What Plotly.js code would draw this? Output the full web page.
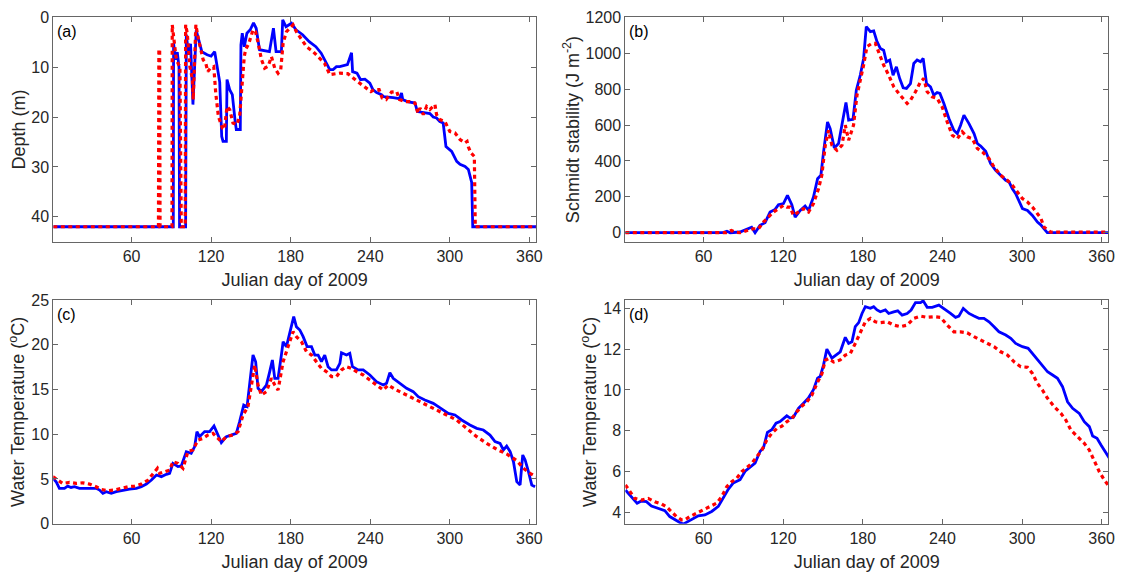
<!DOCTYPE html>
<html>
<head>
<meta charset="utf-8">
<script src="https://cdn.plot.ly/plotly-3.0.1.min.js"></script>
<style>html,body{margin:0;padding:0;background:#fff;}#chart{width:1124px;height:572px;}</style>
</head>
<body>
<div id="chart"></div>
<script>
// ---------- Panel (a): thermocline depth (m) ----------
const depthSolidDay = [1,91.5,91.7,93,94.5,95.8,96.2,100.8,101.3,103,104.5,106.3,108.8,111,113,117,120,122.7,124,126.5,128,129,131.5,132,134,136,138,139,142,142.5,143.5,145,147,149.5,152,154,156.5,164,167,169,173,174,176.5,180.6,184,189,194,199,203,209.5,212,214.5,217,222.8,225.9,226.7,230,232.7,236,239.7,242,244.8,248.5,250,257.3,262,263.6,264.5,268,273.7,275.6,280,285,287.5,290,292.5,295,297.1,301.4,305.2,307.7,311.5,314,316.5,317.3,365];
const depthSolid = [42,42,5.2,8.5,7,10,42,42,3.5,7.5,5.3,17.5,2.6,5.2,6.9,7.5,7.8,6.9,9.2,13,23.9,24.9,24.9,12.5,14.5,15.5,20.5,22.5,22.5,5.5,3.2,5.9,3.2,2.5,1.1,2.2,6.5,6.9,2.2,6.9,6.9,0.5,1.9,1.2,2.5,3.5,4.9,5.9,7.2,10.5,10.5,9.9,9.9,9.5,7.1,10.9,11.2,12.5,12.4,13.2,14.5,15.1,15.5,15.9,16.1,16.3,15.2,16.5,16.9,17.2,18.9,19.1,19.3,20,20.2,20.9,21.2,25.9,26.9,28.9,29.5,29.9,30.5,33.1,42,42];
const depthDottedDay = [1,80.3,80.6,81.2,81.5,90.5,90.7,92,93.5,95,96.5,97.5,100.5,100.8,102,104,106,106.5,108.5,110.5,112.5,114,116,117.5,119.5,122,123.5,125.5,128.5,130,132,134,136.5,139.5,141.5,143,145,146,148.5,151.6,153.5,155.5,158,160.4,163,165.5,168,170.5,172.5,174.3,176.8,179.3,181.8,184.3,188,191.9,197,202,205.5,209.5,214.5,217,223,225.5,230.5,235.5,240.5,243,246.7,249,252,256,260,262,266,270,273.7,276,277.5,280,282.5,285,288.8,290,292.5,296.3,300,303.9,307.7,311.5,313,314,316,318.5,319.2,365];
const depthDotted = [42,42,6.4,6.4,42,42,1.5,4.5,7.9,9.2,10,42,42,1.5,3.2,9.9,12.5,16.5,1.5,4.5,7.2,8.5,9.2,10.9,10.2,9.9,15.2,19.9,22.2,22.5,17.9,18.5,21.2,21.5,19.9,14.5,7.9,6.5,5.2,2.5,2.9,5.2,8.5,10.2,9.8,7.9,10.2,11.2,10.5,5.2,2.9,2.2,1.5,2.9,4.5,5.9,6.9,8.2,9.2,11.5,11.2,11.2,11.3,11.9,12.9,13.9,14.9,14.5,14.5,16.2,16.5,15.0,14.9,16.5,16.9,16.9,17.2,19.2,18.2,19.5,17.9,18.5,17.5,19.5,20.5,20.9,22.9,23.2,24.5,25.2,24.9,26,27.2,27.9,42,42];

// ---------- Panel (b): Schmidt stability (J m-2) ----------
const schmidtSolidDay = [1,74,77.6,80,87.4,92.5,96.2,98.8,102.5,106.3,110.1,113.9,116.4,120.2,123.2,126.5,129,132.8,136.5,139.1,142.8,145.9,148.4,150.4,153.4,155.4,158.5,161.7,164.3,167.3,169.3,172.6,175.1,178.1,180.6,182.6,185.7,188.2,190.7,193.2,195.7,197.8,200.3,202.8,205.3,207.8,210.4,212.9,215.9,218.4,220.9,223.5,225.5,228,231,233.5,236,238.1,241.1,244.9,248.6,251.2,253.7,256.2,260,263.8,266.3,268.8,272.6,276.3,280.1,283.9,287.7,290.2,292.7,295.2,297.8,300.3,304.1,307.8,311.6,314.1,319,365];
const schmidtSolid = [0,0,8,0,4,22,31,0,41,56,115,130,156,162,208,156,87,124,149,124,199,301,320,450,617,580,472,497,599,725,627,632,794,878,971,1148,1120,1124,1064,1027,1017,952,962,878,924,859,807,804,831,943,962,952,971,831,813,766,781,776,720,636,571,552,599,655,608,552,497,483,454,385,348,320,292,283,245,218,171,134,124,96,59,44,0,0];
const schmidtDottedDay = [1,77,81,84,87.4,92.5,97.5,101.3,105.1,108.8,112.6,116.4,120.2,122.7,125.2,127.7,131.5,135.3,139.1,142.8,146.6,149.1,151.7,154.2,156.7,160.5,164.3,166.8,169.3,173,175.6,178.1,180.6,183.1,186.9,189.4,192,195.7,199.5,203.3,207.1,210.9,213.4,215.9,219.7,223.5,226,228.5,232.3,236,239.8,243.6,247.4,251.2,254.9,258.7,262.5,266.3,270.1,275.1,278.9,283.9,288.9,292.7,296.5,300.3,304.1,307.8,311.6,314.1,316.6,321.7,365];
const schmidtDotted = [0,0,13,3,0,13,22,22,59,87,115,134,152,143,143,97,115,134,115,162,245,320,487,571,487,459,487,599,515,599,766,841,934,1036,1055,1055,1008,934,878,813,776,738,720,738,785,841,859,785,757,748,701,617,543,524,562,534,524,469,450,413,366,320,292,264,227,190,171,143,106,82,31,3,3];

// ---------- Panel (c): water temperature (oC) ----------
const tempCSolidDay = [0.6,3.1,5.6,9.4,11.9,14.4,17,20.7,28.3,33.3,35.9,38.4,40.9,44.7,48.5,53.5,58.5,63.6,67.4,71.2,75,78.8,82.5,86.3,88.7,91.2,95,97.5,101.3,105,107.6,109.3,111.3,115.1,118.9,122.2,125.2,127.7,131.5,135.3,139,141.5,144.6,147.1,149.1,151.6,153.6,155.4,157.9,161.7,164.2,166.2,168,170.5,173,174.3,176.8,179.8,182.3,184.3,186.9,189.4,192.4,195.7,198.2,200.7,203.2,205.7,208.2,210.8,214.5,217.1,218.3,222.1,224.6,226.6,230.9,234.7,239.7,244.7,249.8,252.3,254.8,257.3,262.4,267.4,272.4,276.2,281.2,287.5,291.3,295.1,298.9,303.9,308.9,315.2,320.3,325.3,330.3,334.1,337.9,340.4,342.9,345.5,348,350.5,353,355,356.8,359.3,361.8,364.3];
const tempCSolid = [5.07,4.7,3.95,3.95,4.2,4.05,4.13,3.95,3.95,3.95,3.76,3.39,3.58,3.39,3.58,3.76,3.87,3.95,4.13,4.43,4.88,5.44,5.26,5.52,5.63,6.75,6.38,6.45,8.05,7.87,8.61,10.29,9.73,10.29,10.29,10.92,9.91,9.06,9.73,9.91,10.1,11.4,13.27,13.08,15.69,18.85,18.1,15.13,14.76,15.5,16.99,18.3,16.25,16.25,18.85,20.34,19.79,21.46,23.14,22.02,21.65,20.9,19.79,19.79,18.85,18.85,18.1,18.85,17.55,17.18,17.18,17.92,19.11,18.85,19.04,17.55,17.18,17.18,16.62,15.87,15.5,15.69,16.88,16.25,15.69,15.13,14.76,14.2,13.82,13.45,13.08,12.71,12.33,12.15,11.59,11.03,10.66,10.47,9.91,9.17,8.98,8.24,8.68,8.05,6.93,4.7,4.33,7.68,7.12,5.82,4.33,4.14];
const tempCDottedDay = [0.6,4.4,8.1,13.2,18.2,23.2,28.3,33.3,37.1,42.2,47.2,52.2,57.3,62.3,67.4,72.4,76.2,79.5,81.2,85,88.8,91.2,95,98.8,102.5,106.3,110.1,113.9,117.6,121.4,125.2,127.7,131.5,136.5,140.3,144.1,147.8,150.4,152.9,155.4,157.9,161.7,165.5,168,170.5,174.3,178.1,181.8,184.3,188.1,191.9,195.7,199.4,203.2,207,210.8,214.5,218.3,222.1,225.9,229.6,234.7,239.7,244.7,249.8,253.5,259.8,267.4,274.9,282.5,290,297.6,305.1,312.7,320.3,327.8,335.4,342.9,350.5,355.5,360.5,365];
const tempCDotted = [5.26,4.88,4.5,4.62,4.5,4.57,4.43,4.13,3.83,3.69,3.76,3.95,4.13,4.2,4.43,4.88,5.63,6.19,5.63,5.82,6.0,6.93,6.75,6.19,8.05,8.24,9.35,9.54,9.91,10.1,9.54,9.17,9.73,9.91,10.29,12.15,13.08,15.69,17.74,15.5,14.38,14.76,16.25,15.5,14.94,18.1,19.79,21.46,20.9,20.34,19.23,18.85,18.1,17.36,16.99,16.43,16.43,17.18,17.55,17.36,16.99,16.62,16.06,15.5,14.94,15.5,14.94,14.38,13.82,13.27,12.71,12.15,11.59,10.66,9.73,8.98,8.31,7.79,7.05,6.19,5.63,5.26];

// ---------- Panel (d): water temperature (oC) ----------
const tempDSolidDay = [1.1,5.6,9.9,13.1,16.9,20.7,25.7,30.8,34.5,38.3,42.1,44.6,48.4,52.2,56,61,66.1,71.1,74.9,78.7,82.4,87.5,91.3,95,98.8,102.6,105.1,108.1,111.4,114.6,117.6,122.7,125.2,127.7,131.5,135.3,139,142.8,145.9,147.9,150.4,152.9,156.7,163,166.8,169.3,171.8,174.3,176.9,179.4,181.9,185.7,188.2,190.7,193.2,197,199.5,203.3,206.3,209.6,213.4,216.4,219.7,223.5,225.5,228.5,232.3,237.3,241.1,246.1,249.9,252.4,255.7,260,263.8,267.5,271.3,275.1,278.9,282.6,287.7,291.5,295.2,300.3,304.6,307.8,311.6,315.4,319.2,323,326.7,330.5,334.3,338.1,343.1,346.9,350.7,353.2,356.5,359.5,363.3,365.8];
const tempDSolid = [5.09,4.76,4.44,4.55,4.52,4.31,4.18,4.08,3.79,3.63,3.5,3.42,3.55,3.71,3.83,3.87,4.04,4.29,4.7,5.14,5.44,5.6,6.01,6.2,6.41,6.99,7.15,7.92,8.05,8.37,8.45,8.73,8.62,8.66,9.1,9.35,9.6,10.01,10.58,10.66,11.23,12.0,11.56,11.87,12.58,12.28,12.36,13.1,13.3,13.75,14.08,14.0,14.08,13.92,13.83,13.92,13.75,13.83,13.88,13.67,13.75,13.92,14.28,14.28,14.37,14.05,14.05,14.16,14.0,13.75,13.56,13.62,14.0,13.75,13.62,13.51,13.51,13.34,13.1,12.85,12.69,12.53,12.28,12.12,12.04,11.79,11.47,11.14,10.89,10.73,10.57,10.16,9.42,9.1,8.85,8.44,8.2,7.74,7.63,7.3,6.89,6.65];
const tempDDottedDay = [1.1,4.4,8.1,13.1,18.2,23.2,28.3,32,35.8,39.6,43.4,45.9,49.7,54.7,59.8,64.8,69.9,73.7,77.5,81.2,85,88.8,92.5,96.3,100.1,103.9,107.6,111.4,115.2,119,122.7,126.5,130.3,134,137.8,141.6,145.4,149.2,151.7,154.2,158,163,166.8,170.6,174.3,178.1,181.9,185.7,189.4,193.2,198.3,203.3,208.3,213.4,218.4,223.5,228.5,233.5,238.6,243.6,248.6,253.7,258.7,263.8,268.8,273.8,278.9,283.9,289,294,299,304.1,307.8,311.6,315.4,319.2,324.2,329.3,333,336.8,341.8,346.9,350.7,354.4,358.2,362,365.8];
const tempDDotted = [5.34,5.01,4.68,4.6,4.68,4.52,4.41,4.27,4.03,3.79,3.63,3.63,3.79,3.95,4.12,4.28,4.45,4.77,5.26,5.5,5.67,5.99,6.2,6.4,6.73,7.05,7.54,7.87,8.11,8.22,8.44,8.6,8.93,9.2,9.41,9.74,10.31,10.8,11.45,11.54,11.37,11.47,11.71,11.79,12.28,12.85,13.34,13.51,13.34,13.3,13.34,13.18,13.1,13.18,13.51,13.62,13.56,13.59,13.56,13.18,12.85,12.85,12.8,12.61,12.45,12.32,12.12,11.87,11.71,11.38,11.14,11.11,10.81,10.32,9.99,9.59,9.18,8.85,8.52,8.03,7.71,7.38,7.05,6.56,5.99,5.58,5.26];

// ---------- Tick labels ----------
const dayTicks = [60,120,180,240,300,360];
const depthTicks = [0,10,20,30,40];
const schmidtTicks = [0,200,400,600,800,1000,1200];
const tempCTicks = [0,5,10,15,20,25];
const tempDTicks = [4,6,8,10,12,14];
const panelLabels = ['(a)','(b)','(c)','(d)'];
const xTitle = 'Julian day of 2009';
const yTitles = ['Depth (m)','Schmidt stability (J m<sup>-2</sup>)','Water Temperature (<sup>o</sup>C)','Water Temperature (<sup>o</sup>C)'];

const FONT = 'Liberation Sans, Arial, Helvetica, sans-serif';
const TXT = '#262626';
const AX = '#666666';
const BLUE = '#0000ff';
const RED = '#ff0000';

function solid(x, y, xa, ya) {
  return {x: x, y: y, xaxis: xa, yaxis: ya, type: 'scatter', mode: 'lines',
    line: {color: BLUE, width: 2.8}, hoverinfo: 'skip', showlegend: false};
}
function dotted(x, y, xa, ya) {
  return {x: x, y: y, xaxis: xa, yaxis: ya, type: 'scatter', mode: 'lines',
    line: {color: RED, width: 3.2, dash: '4px,3.5px'}, hoverinfo: 'skip', showlegend: false};
}

const traces = [
  solid(depthSolidDay, depthSolid, 'x', 'y'),
  dotted(depthDottedDay, depthDotted, 'x', 'y'),
  solid(schmidtSolidDay, schmidtSolid, 'x2', 'y2'),
  dotted(schmidtDottedDay, schmidtDotted, 'x2', 'y2'),
  solid(tempCSolidDay, tempCSolid, 'x3', 'y3'),
  dotted(tempCDottedDay, tempCDotted, 'x3', 'y3'),
  solid(tempDSolidDay, tempDSolid, 'x4', 'y4'),
  dotted(tempDDottedDay, tempDDotted, 'x4', 'y4')
];

const W = 1124, H = 572;
const colL = [53.3/W, 536/W];
const colR = [625.3/W, 1108.3/W];
const rowT = [1 - 241.7/H, 1 - 17.3/H];
const rowB = [1 - 523.7/H, 1 - 300/H];

function xax(domain, anchor) {
  return {domain: domain, anchor: anchor, range: [1, 365], tickvals: dayTicks,
    ticks: 'inside', ticklen: 5, tickcolor: AX, tickwidth: 1,
    showline: true, linecolor: AX, linewidth: 1, mirror: 'ticks',
    showgrid: false, zeroline: false,
    tickfont: {family: FONT, size: 16, color: TXT},
    title: {text: xTitle, font: {family: FONT, size: 18, color: TXT}, standoff: 9}};
}
function yax(domain, anchor, range, ticks, title) {
  return {domain: domain, anchor: anchor, range: range, tickvals: ticks,
    ticks: 'inside', ticklen: 5, tickcolor: AX, tickwidth: 1,
    showline: true, linecolor: AX, linewidth: 1, mirror: 'ticks',
    showgrid: false, zeroline: false,
    tickfont: {family: FONT, size: 16, color: TXT},
    title: {text: title, font: {family: FONT, size: 18, color: TXT}, standoff: 1}};
}

const layout = {
  width: W, height: H,
  margin: {l: 0, r: 0, t: 0, b: 0},
  paper_bgcolor: '#ffffff', plot_bgcolor: '#ffffff',
  font: {family: FONT, color: TXT},
  xaxis: xax(colL, 'y'),
  yaxis: yax(rowT, 'x', [45, 0], depthTicks, yTitles[0]),
  xaxis2: xax(colR, 'y2'),
  yaxis2: yax(rowT, 'x2', [-50, 1200], schmidtTicks, yTitles[1]),
  xaxis3: xax(colL, 'y3'),
  yaxis3: yax(rowB, 'x3', [0, 25], tempCTicks, yTitles[2]),
  xaxis4: xax(colR, 'y4'),
  yaxis4: yax(rowB, 'x4', [3.44, 14.41], tempDTicks, yTitles[3]),
  annotations: panelLabels.map(function(t, i) {
    const s = i === 0 ? '' : String(i + 1);
    return {text: t, showarrow: false, xref: 'x' + s + ' domain', yref: 'y' + s + ' domain',
      x: 0, y: 1, xanchor: 'left', yanchor: 'top', xshift: 2, yshift: -4,
      font: {family: FONT, size: 16, color: '#000000'}};
  })
};

Plotly.newPlot('chart', traces, layout, {displayModeBar: false, staticPlot: true});
</script>
</body>
</html>
